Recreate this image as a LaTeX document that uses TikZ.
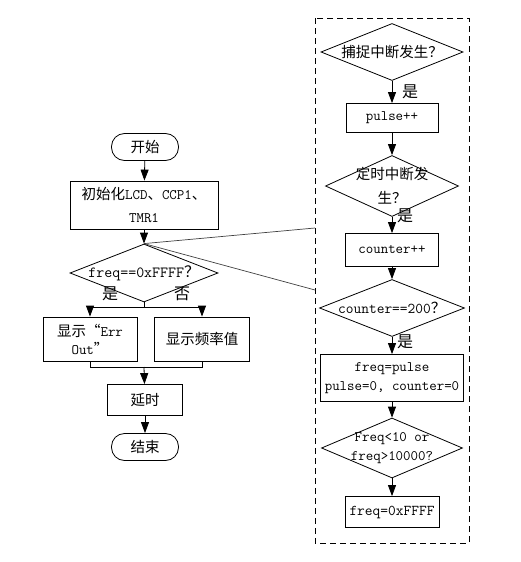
\documentclass[tikz,border=0pt]{standalone}
\usepackage{fontspec}
\newfontfamily\cjk{Noto Sans CJK SC}
\usetikzlibrary{shapes.geometric,arrows.meta}
\newcommand{\zh}[1]{{\cjk #1}}
\begin{document}
\begin{tikzpicture}[x=1pt,y=-1pt,
  font=\fontsize{14.5}{19}\selectfont\ttfamily,
  box/.style={draw, line width=0.8pt, inner sep=1pt, align=center},
  term/.style={draw, line width=0.8pt, rounded corners=13pt, minimum width=67pt, minimum height=27pt, inner sep=1pt},
  dec/.style={draw, diamond, line width=0.8pt, inner sep=-40pt, align=center},
  arr/.style={line width=0.8pt, -{Triangle[length=11pt,width=8pt]}},
  ln/.style={line width=0.8pt},
  link/.style={line width=0.7pt, black!75},
  lab/.style={font=\fontsize{16}{18}\selectfont\cjk, inner sep=0pt}]
\useasboundingbox (0,0) rectangle (520,562);

% left flow
\node[term] (start) at (145,147) {\zh{开始}};
\node[box, minimum width=148pt, minimum height=48pt, font=\fontsize{14.5}{23}\selectfont\ttfamily] (init) at (144,205) {\zh{初始化}LCD\zh{、}CCP1\zh{、}\\TMR1};
\node[dec, minimum width=148pt, minimum height=58pt, font=\fontsize{15.5}{19}\selectfont\ttfamily] (d1) at (144,273) {freq==0xFFFF\zh{？}};
\node[box, minimum width=94pt, minimum height=44pt, font=\fontsize{14.5}{18}\selectfont\ttfamily] (err) at (90,339) {\zh{显示“}Err\\Out\zh{”}};
\node[box, minimum width=95pt, minimum height=44pt] (show) at (202,339) {\zh{显示频率值}};
\node[box, minimum width=75pt, minimum height=31pt] (delay) at (145,400) {\zh{延时}};
\node[term] (end) at (145,447) {\zh{结束}};

\draw[arr] (start) -- (init);
\draw[arr] (init) -- (d1);
\coordinate (j1) at (144,307);
\draw[ln] (d1.south) -- (j1);
\draw[arr] (j1) -| (err.north);
\draw[arr] (j1) -| (show.north);
\coordinate (j2) at (144,367);
\draw[ln] (err.south) |- (j2);
\draw[ln] (show.south) |- (j2);
\draw[arr] (j2) -- (delay);
\draw[arr] (delay) -- (end);
\node[lab] (l1) at (110,294) {是};
\node[lab] (l2) at (182,294) {否};

% right group
\draw[line width=0.8pt, dash pattern=on 6pt off 4pt] (315,18) rectangle (469,543);
\node[dec, minimum width=142pt, minimum height=57pt] (c1) at (392,52) {\zh{捕捉中断发生？}};
\node[box, minimum width=92pt, minimum height=29pt] (c2) at (392,118) {pulse++};
\node[dec, minimum width=133pt, minimum height=61pt, font=\fontsize{14.5}{24}\selectfont\ttfamily] (c3) at (392,186) {\zh{定时中断发}\\\zh{生？}};
\node[box, minimum width=93pt, minimum height=33pt] (c4) at (392,250) {counter++};
\node[dec, minimum width=145pt, minimum height=57pt, font=\fontsize{15}{19}\selectfont\ttfamily] (c5) at (392,308) {counter==200\zh{？}};
\node[box, minimum width=143pt, minimum height=47pt] (c6) at (392,378) {freq=pulse\\pulse=0, counter=0};
\node[dec, minimum width=141pt, minimum height=60pt] (c7) at (392,448) {Freq<10 or\\freq>10000?};
\node[box, minimum width=94pt, minimum height=31pt, font=\fontsize{15}{19}\selectfont\ttfamily] (c8) at (392,512) {freq=0xFFFF};

\draw[arr] (c1) -- (c2);
\draw[arr] (c2) -- (c3);
\draw[arr] (c3) -- (c4);
\draw[arr] (c4) -- (c5);
\draw[arr] (c5) -- (c6);
\draw[arr] (c6) -- (c7);
\draw[arr] (c7) -- (c8);
\node[lab] (r1) at (410,92) {是};
\node[lab] (r2) at (405,216) {是};
\node[lab] (r3) at (405,342) {是};

% links to group
\coordinate (g1) at (315,228);
\coordinate (g2) at (315,290);
\draw[link] (d1.north) -- (g1);
\draw[link] (d1.north) -- (g2);
\end{tikzpicture}
\end{document}
